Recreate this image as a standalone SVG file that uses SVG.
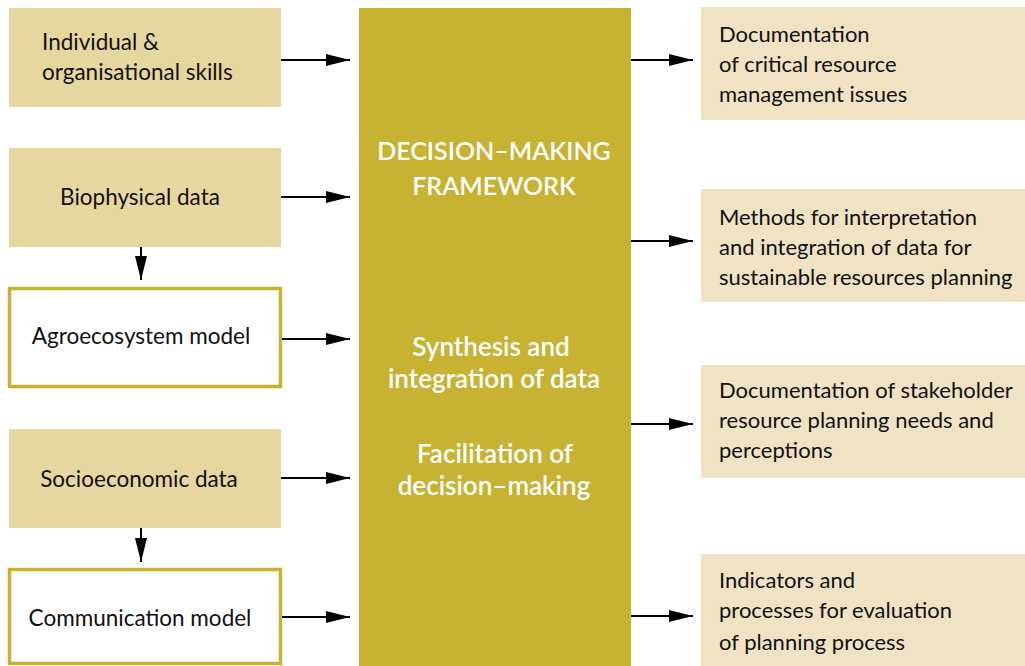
<svg xmlns="http://www.w3.org/2000/svg" width="1025" height="666" viewBox="0 0 1025 666">
<defs>
<marker id="ah" markerWidth="24" markerHeight="12" refX="24" refY="6" orient="auto" markerUnits="userSpaceOnUse">
<path d="M0,0 L24,6 L0,12 z" fill="#000"/>
</marker>
<style>
.in{fill:#E5D79F}
.out{fill:#EFE3C4}
.mdl{fill:#fff;stroke:#C8B232;stroke-width:3.5}
.core{fill:#C8B232}
text{font-family:Lato,"Open Sans","Liberation Sans",sans-serif;font-size:22px;fill:#111}
.l{font-size:22.5px}
.c{text-anchor:middle}
.w{fill:#fff;font-weight:600;font-size:26px}
.t{font-size:25px}
.cn{stroke:#000;stroke-width:2;fill:none;marker-end:url(#ah)}
</style>
</defs>
<rect width="1025" height="666" fill="#fff"/>
<g id="skills"><rect class="in" x="9" y="8" width="272" height="99"/>
<text class="l" x="42" y="50">Individual &amp;</text><text class="l" x="42" y="80">organisational skills</text></g>
<g id="biophysical"><rect class="in" x="9" y="148" width="272" height="99"/>
<text class="c l" x="140" y="205">Biophysical data</text></g>
<g id="agroecosystem"><rect class="mdl" x="9.5" y="288.5" width="271" height="98"/>
<text class="c l" x="141" y="344">Agroecosystem model</text></g>
<g id="socioeconomic"><rect class="in" x="9" y="429" width="272" height="99"/>
<text class="c l" x="139" y="487">Socioeconomic data</text></g>
<g id="communication"><rect class="mdl" x="9.5" y="569.5" width="271" height="94"/>
<text class="c l" x="140" y="626">Communication model</text></g>
<g id="framework"><rect class="core" x="359" y="8" width="272" height="658"/>
<text class="c w t" x="494" y="160">DECISION–MAKING</text>
<text class="c w t" x="494" y="195">FRAMEWORK</text>
<text class="c w" x="491" y="356">Synthesis and</text>
<text class="c w" x="494" y="388">integration of data</text>
<text class="c w" x="495" y="463">Facilitation of</text>
<text class="c w" x="494" y="495">decision–making</text></g>
<g id="r1"><rect class="out" x="701" y="7" width="324" height="113"/>
<text x="719" y="42">Documentation</text><text x="719" y="72">of critical resource</text><text x="719" y="102">management issues</text></g>
<g id="r2"><rect class="out" x="701" y="189" width="324" height="113"/>
<text x="719" y="225">Methods for interpretation</text><text x="719" y="255">and integration of data for</text><text x="719" y="285">sustainable resources planning</text></g>
<g id="r3"><rect class="out" x="701" y="365" width="324" height="113"/>
<text x="719" y="398">Documentation of stakeholder</text><text x="719" y="428">resource planning needs and</text><text x="719" y="458">perceptions</text></g>
<g id="r4"><rect class="out" x="701" y="554" width="324" height="112"/>
<text x="719" y="588">Indicators and</text><text x="719" y="618">processes for evaluation</text><text x="719" y="650">of planning process</text></g>
<g id="connectors">
<path class="cn" d="M281,60 H350"/>
<path class="cn" d="M281,197 H350"/>
<path class="cn" d="M282,339 H350"/>
<path class="cn" d="M281,478 H350"/>
<path class="cn" d="M282,617 H350"/>
<path class="cn" d="M141,247 V280"/>
<path class="cn" d="M141,528 V562"/>
<path class="cn" d="M631,60 H693"/>
<path class="cn" d="M631,241 H693"/>
<path class="cn" d="M631,424 H693"/>
<path class="cn" d="M631,616 H693"/>
</g>
</svg>
